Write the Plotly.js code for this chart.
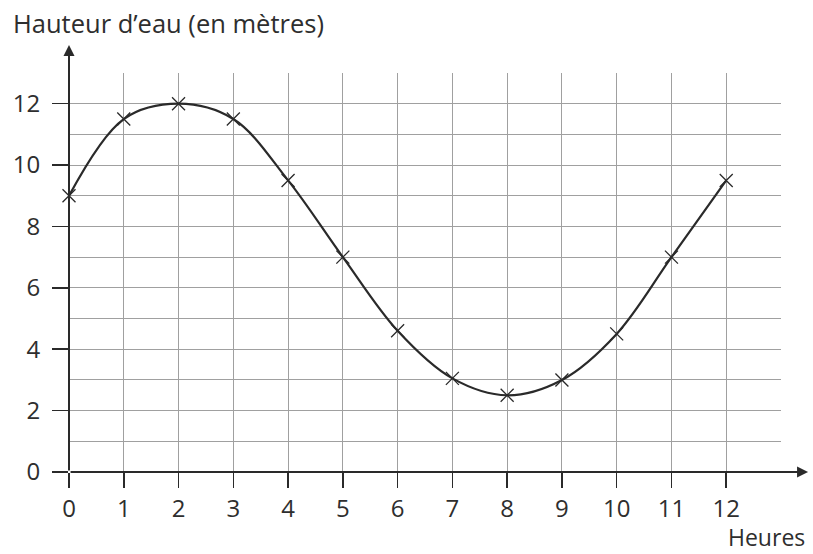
<!DOCTYPE html>
<html>
<head>
<meta charset="utf-8">
<script src="https://cdn.plot.ly/plotly-3.0.1.min.js"></script>
<style>html,body{margin:0;padding:0;background:#fff;}#chart{width:813px;height:554px;}</style>
</head>
<body>
<div id="chart"></div>
<script>
const heures = [0, 1, 2, 3, 4, 5, 6, 7, 8, 9, 10, 11, 12];
const hauteurs = [9, 11.5, 12, 11.5, 9.5, 7, 4.6, 3.05, 2.5, 3, 4.5, 7, 9.5];
const xTickVals = [0, 1, 2, 3, 4, 5, 6, 7, 8, 9, 10, 11, 12];
const yTickVals = [0, 2, 4, 6, 8, 10, 12];
const yTitle = "Hauteur d’eau (en mètres)";
const xTitle = "Heures";

const fontFam = '"Open Sans", "Noto Sans", sans-serif';
const ink = '#2a2a2a';
const txt = '#2e2e2e';

const trace = {
  x: heures,
  y: hauteurs,
  type: 'scatter',
  mode: 'lines+markers',
  line: {shape: 'spline', smoothing: 1, color: ink, width: 2.2},
  marker: {symbol: 'x-thin', size: 13, line: {color: ink, width: 1.3}, color: ink},
  hoverinfo: 'skip',
  cliponaxis: false
};

const layout = {
  width: 813,
  height: 554,
  margin: {l: 69, r: 32, t: 73, b: 82},
  paper_bgcolor: '#fff',
  plot_bgcolor: '#fff',
  showlegend: false,
  font: {family: fontFam, size: 24, color: txt},
  xaxis: {
    range: [0, 13],
    tickmode: 'array',
    tickvals: xTickVals,
    ticktext: xTickVals.map(String),
    ticks: 'outside',
    ticklen: 15,
    tickwidth: 1.5,
    tickcolor: ink,
    ticklabelstandoff: 0,
    tickfont: {family: fontFam, size: 24, color: txt},
    showgrid: true,
    gridcolor: '#a0a0a0',
    gridwidth: 1,
    minor: {dtick: 1, tick0: 0, showgrid: true, gridcolor: '#a0a0a0', gridwidth: 1, ticks: ''},
    zeroline: false,
    showline: false,
    fixedrange: true
  },
  yaxis: {
    range: [0, 13],
    tickmode: 'array',
    tickvals: yTickVals,
    ticktext: yTickVals.map(String),
    ticks: 'outside',
    ticklen: 16,
    tickwidth: 1.5,
    tickcolor: ink,
    ticklabelstandoff: 7,
    tickfont: {family: fontFam, size: 24, color: txt},
    showgrid: true,
    gridcolor: '#a0a0a0',
    gridwidth: 1,
    minor: {dtick: 1, tick0: 0, showgrid: true, gridcolor: '#a0a0a0', gridwidth: 1, ticks: ''},
    zeroline: false,
    showline: false,
    fixedrange: true
  },
  annotations: [
    {
      xref: 'paper', yref: 'paper', x: 1.038, y: 0,
      axref: 'pixel', ayref: 'pixel', ax: -739, ay: 0,
      showarrow: true, arrowhead: 2, arrowsize: 1.1, arrowwidth: 2, arrowcolor: ink, text: ''
    },
    {
      xref: 'paper', yref: 'paper', x: 0, y: 1.07,
      axref: 'pixel', ayref: 'pixel', ax: 0, ay: 427,
      showarrow: true, arrowhead: 2, arrowsize: 1.1, arrowwidth: 2, arrowcolor: ink, text: ''
    },
    {
      xref: 'paper', yref: 'paper', x: -0.082, y: 1.125, xanchor: 'left', yanchor: 'middle',
      showarrow: false, text: yTitle, font: {family: fontFam, size: 25.5, color: txt}
    },
    {
      xref: 'paper', yref: 'paper', x: 1.036, y: -0.164, xanchor: 'right', yanchor: 'middle',
      showarrow: false, text: xTitle, font: {family: fontFam, size: 23, color: txt}
    }
  ]
};

Plotly.newPlot('chart', [trace], layout, {staticPlot: true, displayModeBar: false});
</script>
</body>
</html>
